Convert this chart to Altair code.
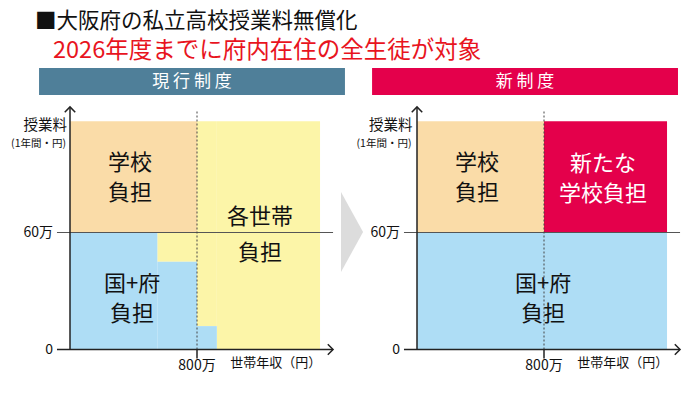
import altair as alt
import pandas as pd

FONT = "Noto Sans CJK JP"

# ---------------- data (values in 万円) ----------------
TITLE = "■大阪府の私立高校授業料無償化"
SUBTITLE = "2026年度までに府内在住の全生徒が対象"
HEAD_CUR = "現 行 制 度"
HEAD_NEW = "新 制 度"

WHO = ["学校負担", "各世帯負担", "国+府負担", "新たな学校負担"]
WHO_COLORS = ["#FADCA8", "#FCF5A8", "#AEDDF5", "#E4004B"]

# 現行制度 blocks: income range (x) and tuition range (y)
cur_who = ["学校負担", "各世帯負担", "各世帯負担", "各世帯負担", "国+府負担", "国+府負担", "国+府負担"]
cur_x0 = [0, 550, 800, 925, 0, 550, 800]
cur_x1 = [800, 800, 925, 1575, 550, 800, 925]
cur_y0 = [60, 45, 12, 0, 0, 0, 0]
cur_y1 = [117, 60, 117, 117, 60, 45, 12]

# 新制度 blocks
new_who = ["学校負担", "新たな学校負担", "国+府負担"]
new_x0 = [0, 800, 0]
new_x1 = [800, 1575, 1575]
new_y0 = [60, 60, 0]
new_y1 = [117, 117, 60]

# block captions (position of first line)
cur_cap_text = ["学校\n負担", "各世帯\n負担", "国+府\n負担"]
cur_cap_x = [378, 1197, 391]
cur_cap_y = [95.6, 67.9, 33.4]
cur_cap_gap = [30, 36, 29.5]

new_cap_text = ["学校\n負担", "新たな\n学校負担", "国+府\n負担"]
new_cap_x = [378, 1172, 795]
new_cap_y = [95.6, 95.0, 33.4]
new_cap_gap = [29.5, 29.5, 29.5]
new_cap_color = ["#111", "white", "#111"]

TUITION_LINE = 60      # 60万
INCOME_LINE = 800      # 800万
X_END = 1657
Y_END = 124.4

# ---------------- layout (px) ----------------
K_X = 127 / 800          # px per 万円 on income axis
K_Y = 117 / 60           # px per 万円 on tuition axis
VIEW_W, VIEW_H = 684, 378
ORIG_L, ORIG_R, ORIG_Y = 62, 409, 341.5

XDOM_L = [-ORIG_L / K_X, (VIEW_W - ORIG_L) / K_X]
XDOM_R = [-ORIG_R / K_X, (VIEW_W - ORIG_R) / K_X]
YDOM = [-(VIEW_H - ORIG_Y) / K_Y, ORIG_Y / K_Y]
YS = alt.Scale(domain=YDOM, nice=False, zero=False)


def xs(dom):
    return alt.Scale(domain=dom, nice=False, zero=False)


def blocks(df, xdom):
    return alt.Chart(df).mark_rect().encode(
        x=alt.X("x0:Q", scale=xs(xdom), axis=None),
        x2="x1:Q",
        y=alt.Y("y0:Q", scale=YS, axis=None),
        y2="y1:Q",
        color=alt.Color("who:N", scale=alt.Scale(domain=WHO, range=WHO_COLORS), legend=None),
    )


def texts(df, xdom, **kw):
    return alt.Chart(df).mark_text(font=FONT, **kw).encode(
        x=alt.X("x:Q", scale=xs(xdom), axis=None),
        y=alt.Y("y:Q", scale=YS, axis=None),
        text="t:N",
    )


def one_text(t, x, y, xdom, **kw):
    return texts(pd.DataFrame({"t": [t], "x": [x], "y": [y]}), xdom, **kw)


def hrule(x0, x1, y, xdom, **kw):
    return alt.Chart(pd.DataFrame({"x0": [x0], "x1": [x1], "y": [y]})).mark_rule(**kw).encode(
        x=alt.X("x0:Q", scale=xs(xdom), axis=None), x2="x1:Q",
        y=alt.Y("y:Q", scale=YS, axis=None))


def vrule(x, y0, y1, xdom, **kw):
    return alt.Chart(pd.DataFrame({"x": [x], "y0": [y0], "y1": [y1]})).mark_rule(**kw).encode(
        x=alt.X("x:Q", scale=xs(xdom), axis=None),
        y=alt.Y("y0:Q", scale=YS, axis=None), y2="y1:Q")


def arrow(x, y, shape, xdom):
    return alt.Chart(pd.DataFrame({"x": [x], "y": [y]})).mark_point(
        shape=shape, filled=False, size=110, strokeWidth=1.5, color="#222", opacity=1
    ).encode(x=alt.X("x:Q", scale=xs(xdom), axis=None), y=alt.Y("y:Q", scale=YS, axis=None))


def header(x0, x1, color, label, xdom):
    bar = alt.Chart(pd.DataFrame({"x0": [x0], "x1": [x1], "y0": [130.5], "y1": [144.4]})).mark_rect(
        color=color).encode(
        x=alt.X("x0:Q", scale=xs(xdom), axis=None), x2="x1:Q",
        y=alt.Y("y0:Q", scale=YS, axis=None), y2="y1:Q")
    txt = one_text(label, (x0 + x1) / 2, 137.4, xdom, color="white", fontSize=17,
                   align="center", baseline="middle")
    return [bar, txt]


def captions(texts_, xs_, ys_, gaps, colors, xdom):
    out = []
    for t, x, y, g, c in zip(texts_, xs_, ys_, gaps, colors):
        out.append(one_text(t, x, y, xdom, fontSize=22, align="center", baseline="middle",
                            color=c, lineBreak="\n", lineHeight=g))
    return out


def axes(xdom, ylab_dx):
    layers = [
        hrule(-82, X_END, TUITION_LINE, xdom, color="#555", strokeWidth=1.1),
        vrule(INCOME_LINE, 0, 122.3, xdom, color="#444", strokeWidth=1, strokeDash=[2, 2]),
        vrule(INCOME_LINE, -4.6, 0, xdom, color="#222", strokeWidth=1.5),
        hrule(-82, X_END, 0, xdom, color="#222", strokeWidth=1.5),
        vrule(0, 0, Y_END, xdom, color="#222", strokeWidth=1.5),
        arrow(0, Y_END, "M-1,1L0,0L1,1", xdom),
        arrow(X_END, 0, "M-1,-1L0,0L-1,1", xdom),
        one_text("60万", -107, TUITION_LINE, xdom, fontSize=14, align="right", baseline="middle", color="#111"),
        one_text("0", -107, 0, xdom, fontSize=14, align="right", baseline="middle", color="#111"),
        one_text("800万", INCOME_LINE, -8.5, xdom, fontSize=14, align="center", baseline="middle", color="#111"),
        one_text("世帯年収（円）", 1010, -6.9, xdom, fontSize=13, align="left", baseline="middle", color="#111"),
        one_text("授業料", -19 - ylab_dx, 114.6, xdom, fontSize=14.5, align="right", baseline="middle", color="#111"),
        one_text("(1年間・円)", -25 - ylab_dx, 105.4, xdom, fontSize=10.5, align="right", baseline="middle", color="#111"),
    ]
    return layers


cur_df = pd.DataFrame({"who": cur_who, "x0": cur_x0, "x1": cur_x1, "y0": cur_y0, "y1": cur_y1})
new_df = pd.DataFrame({"who": new_who, "x0": new_x0, "x1": new_x1, "y0": new_y0, "y1": new_y1})

# chevron between the panels (left-panel coordinates)
chev = alt.Chart(pd.DataFrame({"x": [1707, 1846], "y": [39.7, 60.3], "y2": [80.8, 60.3]})).mark_area(
    color="#DCDCDC").encode(
    x=alt.X("x:Q", scale=xs(XDOM_L), axis=None),
    y=alt.Y("y:Q", scale=YS, axis=None), y2="y2:Q")

left = alt.layer(
    blocks(cur_df, XDOM_L),
    *axes(XDOM_L, 0),
    *captions(cur_cap_text, cur_cap_x, cur_cap_y, cur_cap_gap, ["#111"] * 3, XDOM_L),
    *header(-195, 1732, "#4F7F99", HEAD_CUR, XDOM_L),
    chev,
    one_text(TITLE, -220, 168.1, XDOM_L, fontSize=21.5, align="left", baseline="middle", color="#111"),
    one_text(SUBTITLE, -107, 153.2, XDOM_L, fontSize=23.5, align="left", baseline="middle", color="#E8141E"),
)

right = alt.layer(
    blocks(new_df, XDOM_R),
    *axes(XDOM_R, 10),
    *captions(new_cap_text, new_cap_x, new_cap_y, new_cap_gap, new_cap_color, XDOM_R),
    *header(-283, 1644, "#E4004B", HEAD_NEW, XDOM_R),
)

chart = alt.layer(left, right).resolve_scale(x="independent").properties(
    width=VIEW_W, height=VIEW_H, padding=0,
    autosize=alt.AutoSizeParams(type="none"),
    background="white",
).configure_view(stroke=None)

chart.save("out.html", embed_options={"renderer": "svg", "actions": False})
